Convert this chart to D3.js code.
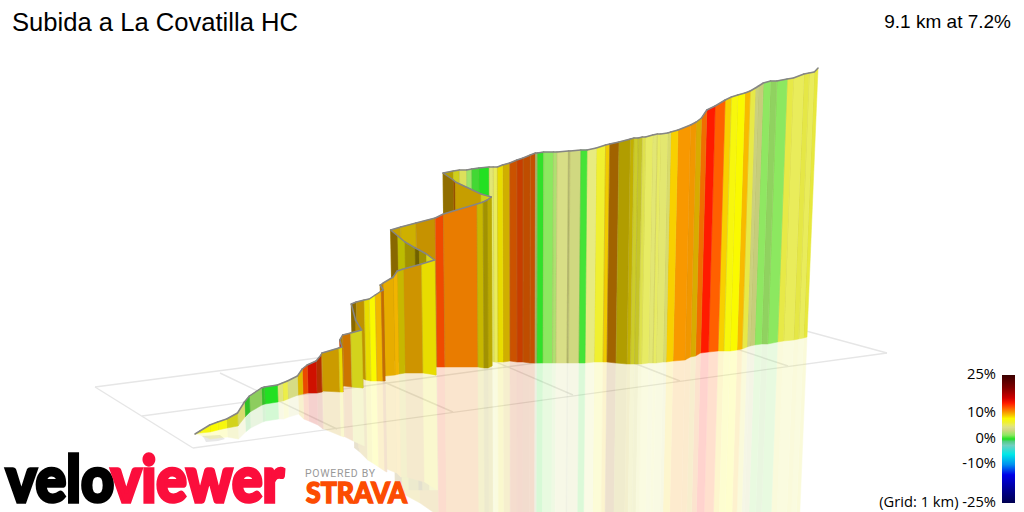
<!DOCTYPE html>
<html><head><meta charset="utf-8">
<script src="https://cdn.jsdelivr.net/npm/d3@7/dist/d3.min.js"></script>
<style>html,body{margin:0;padding:0;background:#fff}svg{display:block}</style>
</head><body><svg id="c" width="1024" height="512"></svg>
<script>
const title = "Subida a La Covatilla HC";
const summary = "9.1 km at 7.2%";
const legendTicks = [25, 10, 0, -10, -25];
const gridNote = "(Grid: 1 km) ";

// Route stations in the view plane: km across, km in depth, and elevation in metres
const stationEast = [1.95,2.00,2.10,2.18,2.27,2.38,2.45,2.50,2.62,2.65,2.78,2.83,2.88,2.98,3.03,3.08,3.17,3.22,3.23,3.40,
  3.43,3.41,3.44,3.52,3.63,3.57,3.53,3.58,3.66,3.71,3.77,3.83,3.85,3.82,3.85,3.95,3.99,4.05,4.23,4.36,
  4.28,4.21,4.17,4.07,4.00,3.93,4.03,4.18,4.37,4.45,4.78,4.84,4.88,4.92,4.82,4.57,4.55,4.45,4.55,4.61,
  4.68,4.73,4.80,4.90,4.94,4.98,5.03,5.10,5.17,5.23,5.30,5.35,5.37,5.43,5.525,5.56,5.67,5.685,5.79,5.85,
  5.94,6.03,6.07,6.16,6.27,6.305,6.345,6.385,6.415,6.485,6.53,6.56,6.63,6.66,6.73,6.85,6.905,6.955,7.005,7.085,
  7.18,7.24,7.30,7.37,7.42,7.47,7.50,7.545,7.615,7.675,7.775,7.835,7.935,7.985,8.035,8.07];
const stationDepth = [0.78,0.79,0.80,0.82,0.84,0.86,0.95,1.00,1.07,1.08,1.10,1.11,1.13,1.17,1.18,1.19,1.19,1.20,1.21,1.20,
  1.20,1.25,1.26,1.25,1.24,1.28,1.36,1.35,1.32,1.31,1.31,1.31,1.31,1.36,1.36,1.37,1.38,1.39,1.39,1.37,
  1.40,1.42,1.43,1.46,1.49,1.52,1.51,1.49,1.45,1.45,1.45,1.44,1.44,1.46,1.47,1.57,1.57,1.61,1.59,1.58,
  1.56,1.55,1.54,1.51,1.50,1.50,1.50,1.51,1.50,1.50,1.49,1.49,1.49,1.49,1.49,1.49,1.49,1.49,1.49,1.49,
  1.50,1.50,1.50,1.49,1.48,1.48,1.48,1.48,1.48,1.49,1.49,1.49,1.50,1.50,1.51,1.52,1.55,1.56,1.59,1.60,
  1.61,1.61,1.61,1.62,1.63,1.65,1.66,1.67,1.68,1.68,1.70,1.71,1.72,1.73,1.74,1.75];
const stationElevation = [1300,1305,1317.5,1320,1322.5,1332.5,1337.5,1340,1342.5,1342.5,1342.5,1345,1345,1347.5,1362.5,1370,1380,1392.5,1395,1410,
  1412.5,1417.5,1427.5,1435,1445,1460,1480,1487.5,1500,1505,1515,1525,1527.5,1527.5,1532.5,1545,1557.5,1560,1572.5,1587.5,
  1595,1600,1602.5,1610,1617.5,1625,1635,1650,1672.5,1682.5,1707.5,1715,1720,1722.5,1727.5,1732.5,1737.5,1745,1755,1760,
  1765,1770,1775,1785,1787.5,1787.5,1792.5,1795,1805,1810,1820,1825,1825,1827.5,1827.5,1827.5,1830,1830,1832.5,1832.5,
  1835,1842.5,1845,1852.5,1862.5,1865,1865,1867.5,1867.5,1870,1872.5,1872.5,1872.5,1875,1877.5,1887.5,1887.5,1895,1907.5,1915,
  1927.5,1935,1940,1942.5,1945,1947.5,1950,1955,1957.5,1957.5,1957.5,1957.5,1965,1965,1965,1972.5];
// Gradient (%) of the stretch after each station, and how brightly that wall face is lit
const bandGradient = [6.8,7.5,8,7.6,7,5,0.3,2,0.4,0,4.8,6,4,9,12.5,14.5,12.8,10.5,9.5,8.3,
  14,9.5,10.8,7,9.5,9.5,9.5,9.5,8.3,8,9.5,11,10,10,9.6,9.6,8.5,9.8,8.3,7,
  8.6,8.8,8.6,8,9.5,9.2,8.9,9.7,12.5,11,8.5,8.6,8.6,7,9.3,11,9.5,8.7,7,5.5,
  2,0.5,0,5,5.6,8.3,9,11.8,12.5,11.8,11.8,4,0.2,1.5,2.5,4.2,3.5,3.5,0.5,4.8,
  6.5,9,10.5,8.7,8.6,6.5,6.5,5.8,5.4,5,5.4,5.1,5,9,10.5,10.4,9.3,11.5,14,12,
  9,7.6,8,9.6,6,4,3.5,1.6,2,1.5,6,5.6,6,5.6,6.2];
const bandLight = [1,1,1,1,0.87,0.95,0.85,0.9,0.85,1,1,1,1,0.9,0.92,0.85,0.7,0.9,0.82,0.93,
  0.85,0.7,0.82,0.87,0.75,0.55,0.55,0.77,0.93,1,0.97,0.8,0.7,0.8,0.93,0.97,0.8,0.83,0.93,0.87,
  0.65,0.45,0.65,0.75,0.55,0.8,0.83,0.8,0.94,0.93,0.8,0.65,0.75,0.85,0.8,0.6,0.58,0.72,0.85,0.95,
  1,0.95,1,1,1,0.93,0.84,0.8,0.78,0.75,0.78,0.8,1,1,1,1,0.85,1,1,1.03,
  1,0.97,0.65,0.71,0.78,0.85,0.82,0.95,1,1,1,1,0.95,1,1,0.97,0.87,0.95,1,1,
  1,1,1,1,0.98,0.95,0.95,1,0.92,1,0.98,1,0.97,1,0.97];

// Gradient colour key
const keyGradient = [-25,-20,-14,-10,-6,-2.5,-1,0,1.5,3.5,4.5,5.5,6.5,8,9,10.5,12,14,16,20,25];
const keyColor = ["#000050","#000090","#0000e8","#0090f0","#00e8e8","#70d0c0","#55cc88","#22e022","#8ce860","#d0d880","#dce088","#e8ec60","#f0f030","#fafa00","#f8d000","#f89800","#ff6000","#ff1a00","#d00000","#800000","#3a0000"];

// Ground grid lines, 1 km cells, as seen in the view plane
const gridFromEast  = [0.95,1.93,8.87,7.14,1.42,2.20,3.24,4.45,5.41,6.33];
const gridFromDepth = [1.25,0.64,1.59,2.06,0.96,1.39,1.56,1.72,1.85,1.97];
const gridToEast    = [1.93,8.87,7.14,0.95,7.96,3.37,4.53,5.73,6.80,7.88];
const gridToDepth   = [0.64,1.59,2.06,1.25,1.84,0.83,1.00,1.17,1.31,1.46];
const startMarkEast  = [2.02,2.20,2.25,2.18,2.06,2.04];
const startMarkDepth = [0.76,0.77,0.73,0.71,0.70,0.74];

const svg = d3.select("#c");
const east = d3.scaleLinear().domain([0,10.24]).range([0,1024]);
const depth = d3.scaleLinear().domain([0,5.12]).range([512,0]);
const rise = d3.scaleLinear().domain([1300,1975]).range([0,270]);
const gradColor = d3.scaleLinear().domain(keyGradient).range(keyColor).interpolate(d3.interpolateRgb);
const convergence = 1.43e-4, axisX = 520;

const pts = stationEast.map((e,i)=>{
  const x = east(e), y = depth(stationDepth[i]), h = rise(stationElevation[i]);
  const lean = (x-axisX)*h*convergence;
  return {bx:x, by:y, tx:x+lean, ty:y-h, rx:x-lean, ry:y+h};
});
const bands = d3.range(pts.length-1).map(i=>({
  a:pts[i], b:pts[i+1], order:(pts[i].by+pts[i+1].by)/2, i,
  fill:(()=>{const c=d3.rgb(gradColor(bandGradient[i])),l=bandLight[i];return d3.rgb(c.r*l,c.g*l,c.b*l).formatHex();})()
}));
const painted = d3.sort(bands,(p,q)=>p.order-q.order);
const line = d3.line();

// grid
svg.append("g").selectAll("line").data(gridFromEast).join("line")
  .attr("x1",(d,i)=>east(d)).attr("y1",(d,i)=>depth(gridFromDepth[i]))
  .attr("x2",(d,i)=>east(gridToEast[i])).attr("y2",(d,i)=>depth(gridToDepth[i]))
  .attr("stroke","#e6e6e6").attr("stroke-width",1.4);
svg.append("path").attr("d",line(startMarkEast.map((e,i)=>[east(e),depth(startMarkDepth[i])]))+"Z").attr("fill","#e8e8e8");

// reflection
svg.append("g").attr("opacity",0.19).selectAll("path").data(painted).join("path")
  .attr("d",d=>line([[d.a.bx,d.a.by],[d.b.bx,d.b.by],[d.b.rx,d.b.ry],[d.a.rx,d.a.ry]])+"Z")
  .attr("fill",d=>d.fill).attr("stroke",d=>d.fill).attr("stroke-width",0.5);

// wall
const wall = svg.append("g").selectAll("g").data(painted).join("g");
wall.append("path")
  .attr("d",d=>line([[d.a.bx,d.a.by],[d.b.bx,d.b.by],[d.b.tx,d.b.ty],[d.a.tx,d.a.ty]])+"Z")
  .attr("fill",d=>d.fill).attr("stroke",d=>d.fill).attr("stroke-width",0.5);
wall.append("path")
  .attr("d",d=>line([[d.a.tx,d.a.ty],[d.a.bx,d.a.by]]))
  .attr("fill","none").attr("stroke","#a09050").attr("stroke-opacity",0.3).attr("stroke-width",0.8);
wall.append("path")
  .attr("d",d=>line([[d.a.tx,d.a.ty],[d.b.tx,d.b.ty]]))
  .attr("fill","none").attr("stroke","#858585").attr("stroke-width",1.5).attr("stroke-linecap","round");

// title
svg.append("text").attr("x",12).attr("y",31).text(title)
  .attr("font-family","Liberation Sans").attr("font-size",25.6).attr("fill","#000");
svg.append("text").attr("x",1011).attr("y",28).attr("text-anchor","end").text(summary)
  .attr("font-family","Liberation Sans").attr("font-size",19).attr("fill","#000");

// legend
const legendY = d3.scaleLinear().domain([25,-25]).range([375,503]);
const defs = svg.append("defs");
const lg = defs.append("linearGradient").attr("id","key").attr("x1",0).attr("x2",0).attr("y1",0).attr("y2",1);
keyGradient.slice().reverse().forEach(g=>lg.append("stop")
  .attr("offset",((25-g)/50)).attr("stop-color",gradColor(g)));
svg.append("rect").attr("x",1002).attr("y",legendY(25)).attr("width",13).attr("height",legendY(-25)-legendY(25)).attr("fill","url(#key)");
const legendAxis = d3.axisLeft(legendY).tickValues(legendTicks).tickSize(0).tickPadding(0)
  .tickFormat(d=>(d===-25?gridNote:"")+d+"%");
const ag = svg.append("g").attr("transform","translate(996,-1.5)").call(legendAxis);
ag.select(".domain").remove();
ag.selectAll("text").attr("font-family","Open Sans").attr("font-size",14.7).attr("fill","#000");

// logos
svg.append("text").attr("x",6).attr("y",502).text("velo").attr("textLength",108).attr("lengthAdjust","spacingAndGlyphs")
  .attr("font-family","Lato").attr("font-weight",900).attr("font-size",64)
  .attr("fill","#000").attr("stroke","#000").attr("stroke-width",3.5);
svg.append("text").attr("x",111).attr("y",502).text("viewer").attr("textLength",173).attr("lengthAdjust","spacingAndGlyphs")
  .attr("font-family","Lato").attr("font-weight",900).attr("font-size",64)
  .attr("fill","#fb0e3c").attr("stroke","#fb0e3c").attr("stroke-width",3.5);
svg.append("text").attr("x",305).attr("y",477).text("POWERED BY").attr("textLength",70)
  .attr("font-family","Roboto").attr("font-size",10.5).attr("fill","#999");
svg.append("text").attr("x",306).attr("y",503).text("STRAVA").attr("textLength",101).attr("lengthAdjust","spacingAndGlyphs")
  .attr("font-family","Lato").attr("font-weight",900).attr("font-size",28)
  .attr("fill","#fc4c02").attr("stroke","#fc4c02").attr("stroke-width",1.5);
</script></body></html>
